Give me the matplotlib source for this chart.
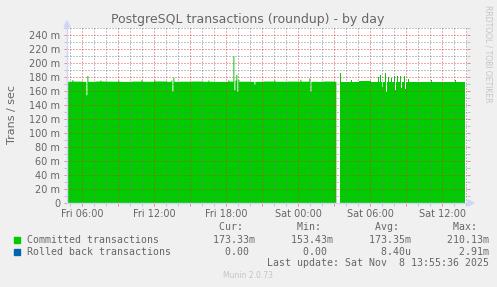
import numpy as np
import matplotlib
matplotlib.use("Agg")
import matplotlib.pyplot as plt
from matplotlib.patches import Polygon, Rectangle
from matplotlib.ticker import MultipleLocator, FixedLocator

# time axis: hours since Fri 00:00, one sample every 5 minutes
t_start = 4.75
t_end = 37.93

# committed transactions (milli trans/sec), hourly base level
hour_levels = [173.2, 173.4, 173.1, 173.5, 173.3, 173.0, 173.4, 173.2, 173.6, 173.1,
               173.3, 173.5, 173.2, 173.0, 173.4, 173.3, 173.1, 173.5, 173.2, 173.4,
               173.3, 173.1, 173.5, 173.2, 173.3, 173.6, 173.2, 173.4, 173.1, 173.3,
               173.5, 173.2, 173.4, 173.3]

# single samples that stand out from the base level
spike_hours = [5.15, 6.30, 6.40, 7.50, 9.00, 10.90, 12.00, 13.40, 13.50, 13.60,
               16.50, 18.20, 18.55, 18.63, 18.72, 18.80, 18.88, 19.00, 20.30, 22.00,
               24.13, 24.94, 25.02, 27.50, 28.40, 30.66, 30.86, 31.03, 31.22, 31.30,
               31.50, 31.78, 31.97, 32.05, 32.25, 32.53, 32.60, 32.80, 32.90, 33.16,
               35.11, 37.05]
spike_vals = [175.5, 154.0, 181.5, 175.0, 174.8, 175.3, 175.2, 174.9, 159.0, 179.0,
              175.0, 175.2, 209.5, 161.0, 175.0, 183.0, 159.0, 176.0, 169.0, 175.0,
              176.0, 178.0, 159.0, 186.0, 175.0, 179.5, 183.0, 165.0, 186.0, 159.0,
              180.0, 178.0, 182.0, 162.0, 182.0, 181.0, 164.0, 181.0, 163.0, 177.0,
              175.0, 175.5]

# no data between these hours
gap_start, gap_end = 27.17, 27.42

x_ticks = [6, 12, 18, 24, 30, 36]
x_labels = ["Fri 06:00", "Fri 12:00", "Fri 18:00", "Sat 00:00", "Sat 06:00", "Sat 12:00"]
y_ticks = [0, 20, 40, 60, 80, 100, 120, 140, 160, 180, 200, 220, 240]

series_names = ["Committed transactions", "Rolled back transactions"]
series_colors = ["#00CC00", "#0066B3"]
cur_vals = ["173.33m", "  0.00 "]
min_vals = ["153.43m", "  0.00 "]
avg_vals = ["173.35m", "  8.40u"]
max_vals = ["210.13m", "  2.91m"]

t = np.arange(t_start, t_end, 1 / 12)
committed = np.array([hour_levels[int(h) - 4] for h in t])
for h, v in zip(spike_hours, spike_vals):
    committed[np.argmin(np.abs(t - h))] = v
committed[(t >= gap_start) & (t < gap_end)] = np.nan
rolled = np.zeros_like(committed)

W, H = 497, 287
fig = plt.figure(figsize=(W / 100, H / 100), dpi=100, facecolor="#F0F0F0")
ax = fig.add_axes([67 / W, 1 - 203 / H, 400 / W, 175 / H])
ax.set_facecolor("white")

ax.fill_between(t, 0, committed, step="post", color=series_colors[0], lw=0, zorder=1)
ax.fill_between(t, committed, committed + rolled, step="post", color=series_colors[1], lw=0, zorder=1)

ax.set_xlim(4.72, 38.05)
ax.set_ylim(0, 250)

minor_c = (0.45, 0.45, 0.45, 0.3)
major_c = (0.87, 0.19, 0.19, 0.35)

# major x grid every 3 h, labels every 6 h
major_x = list(range(6, 38, 3))
ax.xaxis.set_major_locator(FixedLocator(major_x))
ax.xaxis.set_minor_locator(MultipleLocator(1))
ax.set_xticklabels([x_labels[x_ticks.index(x)] if x in x_ticks else "" for x in major_x])
ax.yaxis.set_major_locator(FixedLocator(y_ticks))
ax.yaxis.set_minor_locator(MultipleLocator(10))
ax.set_yticklabels([("%d m" % v) if v else "0" for v in y_ticks])

ax.grid(True, which="minor", color=minor_c, lw=0.6, linestyle=(0, (1.2, 2.4)), zorder=2)
ax.grid(True, which="major", color=major_c, lw=0.6, linestyle=(0, (1.2, 2.4)), zorder=2)
ax.set_axisbelow(False)

ax.tick_params(which="both", direction="out", length=2, width=0.72, right=True,
               labelsize=7, labelcolor="#666666", pad=3)
ax.tick_params(which="major", color=(0.87, 0.19, 0.19, 0.5))
ax.tick_params(which="minor", color=(0.5, 0.5, 0.5, 0.4))
ax.tick_params(axis="x", which="major", pad=2.5)

for s in ["top", "right"]:
    ax.spines[s].set_visible(False)
for s in ["left", "bottom"]:
    ax.spines[s].set_color("#CFD6F8")
    ax.spines[s].set_linewidth(1)
    ax.spines[s].set_zorder(3)


def px(x, y):
    return (x / W, 1 - y / H)


arrow_c = "#CFD6F8"
fig.patches.append(Polygon([px(64, 27), px(70, 27), px(67, 21)], closed=True,
                           transform=fig.transFigure, color=arrow_c))
fig.add_artist(plt.Line2D([67 / W, 67 / W], [1 - 28 / H, 1 - 26 / H], color=arrow_c, lw=1))
fig.patches.append(Polygon([px(468, 200), px(468, 206), px(474, 203)], closed=True,
                           transform=fig.transFigure, color=arrow_c))

fig.text(248 / W, 1 - 19 / H, "PostgreSQL transactions (roundup) - by day",
         ha="center", va="center", fontsize=9, color="#666666")
fig.text(12 / W, 1 - 115 / H, "Trans / sec", rotation=90, ha="center", va="center",
         fontsize=8, color="#666666")
fig.text(488 / W, 1 - 5 / H, "RRDTOOL / TOBI OETIKER", rotation=270, ha="center", va="top",
         fontsize=5.5, color="#C4C4C4")
fig.text(248 / W, 1 - 276 / H, "Munin 2.0.73", ha="center", va="center",
         fontsize=5.5, color="#C4C4C4")

mono = dict(family="DejaVu Sans Mono", fontsize=7.1, color="#666666", va="center", ha="left")
header = " " * 25 + "Cur:".rjust(11) + "  " + "Min:".rjust(11) + "  " + \
         "Avg:".rjust(11) + "  " + "Max:".rjust(11)
fig.text(27 / W, 1 - 227.5 / H, header, **mono)
rows_y = [240, 252]
for i in range(2):
    line = series_names[i].ljust(25) + cur_vals[i].rjust(13) + min_vals[i].rjust(13) + \
           avg_vals[i].rjust(13) + max_vals[i].rjust(13)
    fig.text(27 / W, 1 - rows_y[i] / H, line, **mono)
    fig.patches.append(Rectangle(px(14, rows_y[i] + 3), 6 / W, 6 / H,
                                 transform=fig.transFigure, color=series_colors[i]))
last = "Last update: Sat Nov  8 13:55:36 2025"
fig.text(27 / W, 1 - 263.5 / H, last.rjust(77), **mono)

fig.savefig("out.png", dpi=100, facecolor=fig.get_facecolor())
